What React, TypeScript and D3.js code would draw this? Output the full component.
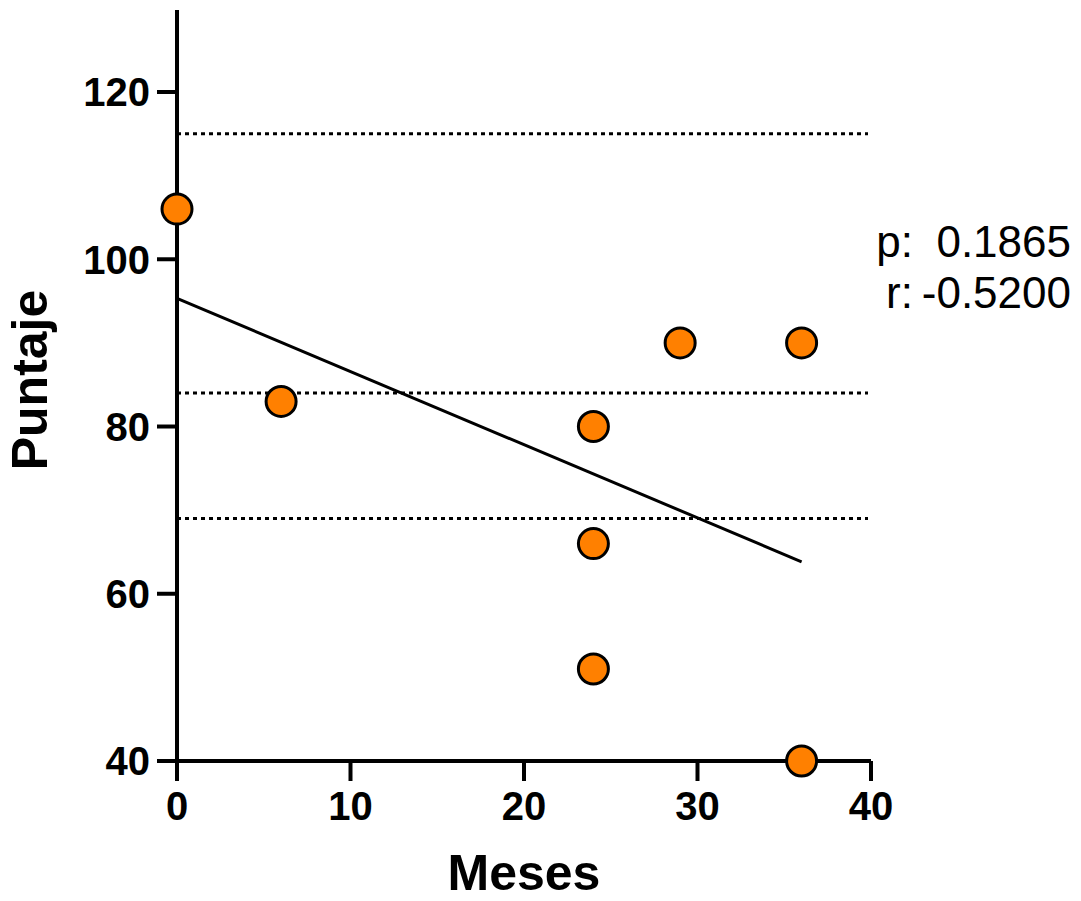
import React from "react";
import * as d3 from "d3";

const meses: number[] = [0, 6, 24, 24, 24, 29, 36, 36];
const puntaje: number[] = [106, 83, 80, 66, 51, 90, 90, 40];
const refLines: number[] = [115, 84, 69];
const xTicks: number[] = [0, 10, 20, 30, 40];
const yTicks: number[] = [40, 60, 80, 100, 120];
const statLabels: string[] = ["p:", "r:"];
const statValues: string[] = ["0.1865", "-0.5200"];

const W = 1081;
const H = 901;

export default function App() {
  const x = d3.scaleLinear().domain([0, 40]).range([177, 871]);
  const y = d3.scaleLinear().domain([40, 130]).range([761, 8.4]);

  const mx = d3.mean(meses)!;
  const my = d3.mean(puntaje)!;
  let sxy = 0, sxx = 0;
  meses.forEach((v, i) => {
    sxy += (v - mx) * (puntaje[i] - my);
    sxx += (v - mx) * (v - mx);
  });
  const slope = sxy / sxx;
  const intercept = my - slope * mx;
  const xMin = d3.min(meses)!;
  const xMax = d3.max(meses)!;
  const line = d3.line<number>().x((d) => x(d)).y((d) => y(intercept + slope * d));

  const font = "Arial, 'Liberation Sans', Helvetica, sans-serif";

  return (
    <svg width={W} height={H} style={{ position: "absolute", left: 0, top: 0, background: "#fff" }}>
      <rect width={W} height={H} fill="#fff" />
      {refLines.map((v, i) => (
        <line key={"r" + i} x1={x(0)} x2={x(40) - 3} y1={y(v)} y2={y(v)} stroke="#000" strokeWidth={3} strokeDasharray="4 4" />
      ))}
      <path d={line([xMin, xMax]) || ""} fill="none" stroke="#000" strokeWidth={3} />
      {/* axes */}
      <line x1={x(0)} x2={x(40)} y1={y(40)} y2={y(40)} stroke="#000" strokeWidth={4} />
      <line x1={x(0)} x2={x(0)} y1={y(40) + 2} y2={y(130) + 1.6} stroke="#000" strokeWidth={4} />
      {xTicks.map((t) => (
        <g key={"xt" + t}>
          <line x1={x(t)} x2={x(t)} y1={y(40)} y2={y(40) + 20} stroke="#000" strokeWidth={4} />
          <text x={x(t)} y={820} textAnchor="middle" fontFamily={font} fontWeight="bold" fontSize={40}>{t}</text>
        </g>
      ))}
      {yTicks.map((t) => (
        <g key={"yt" + t}>
          <line x1={x(0) - 20} x2={x(0)} y1={y(t)} y2={y(t)} stroke="#000" strokeWidth={4} />
          <text x={x(0) - 27} y={y(t)} dy="0.36em" textAnchor="end" fontFamily={font} fontWeight="bold" fontSize={40}>{t}</text>
        </g>
      ))}
      {meses.map((v, i) => (
        <circle key={"p" + i} cx={x(v)} cy={y(puntaje[i])} r={15} fill="#FF8000" stroke="#000" strokeWidth={3} />
      ))}
      <text x={524} y={890} textAnchor="middle" fontFamily={font} fontWeight="bold" fontSize={50}>Meses</text>
      <text transform={`translate(47,380) rotate(-90)`} textAnchor="middle" fontFamily={font} fontWeight="bold" fontSize={50}>Puntaje</text>
      {statLabels.map((s, i) => (
        <g key={"s" + i}>
          <text x={913} y={257 + i * 51} textAnchor="end" fontFamily={font} fontSize={44}>{s}</text>
          <text x={1071} y={257 + i * 51} textAnchor="end" fontFamily={font} fontSize={44}>{statValues[i]}</text>
        </g>
      ))}
    </svg>
  );
}
